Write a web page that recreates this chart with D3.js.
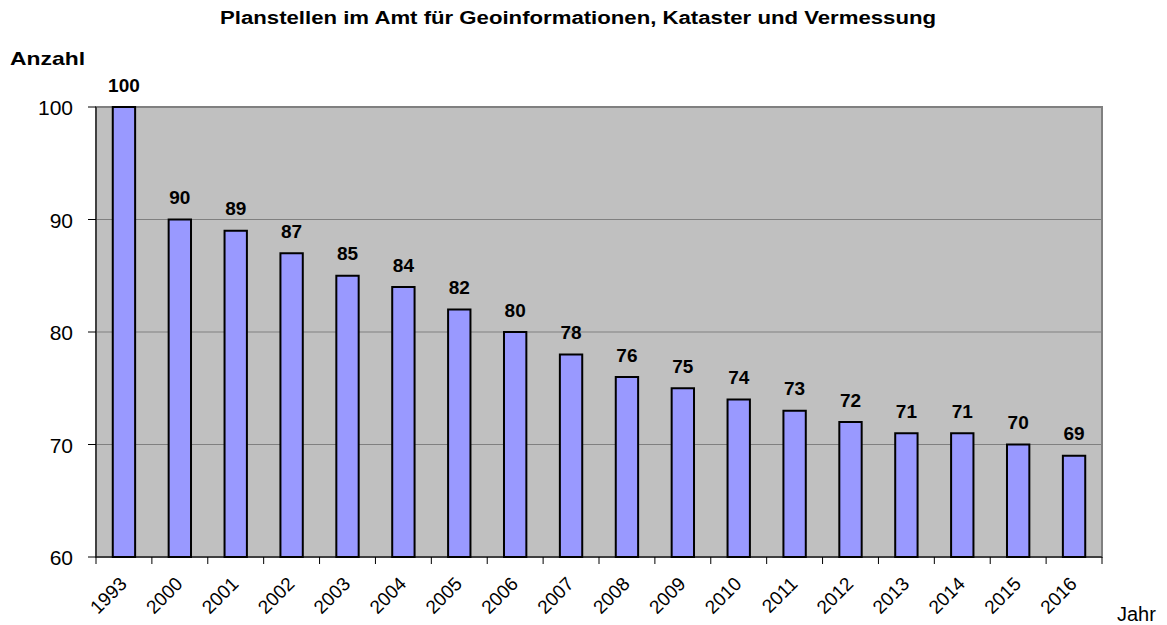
<!DOCTYPE html>
<html>
<head>
<meta charset="utf-8">
<script src="https://cdn.jsdelivr.net/npm/d3@7"></script>
<style>
  body { margin: 0; background: #fff; }
  text { font-family: "Liberation Sans", Arial, sans-serif; }
</style>
</head>
<body>
<svg id="chart" width="1167" height="625"></svg>
<script>
var years = ['1993', '2000', '2001', '2002', '2003', '2004', '2005', '2006', '2007',
  '2008', '2009', '2010', '2011', '2012', '2013', '2014', '2015', '2016'];
var stellen = [100, 90, 89, 87, 85, 84, 82, 80, 78, 76, 75, 74, 73, 72, 71, 71, 70, 69];
var yTicks = [60, 70, 80, 90, 100];

var svg = d3.select('#chart');
var m = { left: 96, right: 1102, top: 107, bottom: 557 };

var x = d3.scaleBand()
  .domain(years)
  .range([m.left, m.right])
  .paddingInner(0.6)
  .paddingOuter(0.3);
var xb = d3.scaleBand().domain(years).range([m.left, m.right]);

var y = d3.scaleLinear().domain([60, 100]).range([m.bottom, m.top]);

// plot area
svg.append('rect')
  .attr('x', m.left).attr('y', m.top)
  .attr('width', m.right - m.left).attr('height', m.bottom - m.top)
  .attr('fill', '#c0c0c0')
  .attr('stroke', '#808080').attr('stroke-width', 2);

// gridlines
svg.append('g')
  .selectAll('line')
  .data(yTicks.slice(1, -1))
  .join('line')
  .attr('x1', m.left).attr('x2', m.right)
  .attr('y1', function(d) { return y(d); })
  .attr('y2', function(d) { return y(d); })
  .attr('stroke', '#808080').attr('stroke-width', 1);

// bars
svg.append('g')
  .selectAll('rect')
  .data(stellen)
  .join('rect')
  .attr('x', function(d, i) { return x(years[i]); })
  .attr('y', function(d) { return y(d); })
  .attr('width', x.bandwidth())
  .attr('height', function(d) { return y(60) - y(d); })
  .attr('fill', '#9999ff')
  .attr('stroke', '#000').attr('stroke-width', 2);

// value labels
svg.append('g')
  .selectAll('text')
  .data(stellen)
  .join('text')
  .attr('x', function(d, i) { return x(years[i]) + x.bandwidth() / 2; })
  .attr('y', function(d) { return y(d) - 15.5; })
  .attr('text-anchor', 'middle')
  .attr('font-weight', 'bold')
  .attr('font-size', 19)
  .text(function(d) { return d; });

// axes lines
svg.append('line')
  .attr('x1', m.left).attr('x2', m.left).attr('y1', m.top).attr('y2', m.bottom)
  .attr('stroke', '#000');
svg.append('line')
  .attr('x1', m.left).attr('x2', m.right).attr('y1', m.bottom).attr('y2', m.bottom)
  .attr('stroke', '#000');

// y axis
var yAxis = svg.append('g');
yAxis.selectAll('line')
  .data(yTicks)
  .join('line')
  .attr('x1', m.left - 8).attr('x2', m.left)
  .attr('y1', function(d) { return y(d); })
  .attr('y2', function(d) { return y(d); })
  .attr('stroke', '#000');
yAxis.selectAll('text')
  .data(yTicks)
  .join('text')
  .attr('x', 73)
  .attr('y', function(d) { return y(d) + 8; })
  .attr('text-anchor', 'end')
  .attr('font-size', 21)
  .text(function(d) { return d; });

// x axis ticks at category boundaries
var bounds = years.map(function(d) { return xb(d); }).concat([m.right]);
svg.append('g')
  .selectAll('line')
  .data(bounds)
  .join('line')
  .attr('x1', function(d) { return d; }).attr('x2', function(d) { return d; })
  .attr('y1', m.bottom).attr('y2', m.bottom + 7)
  .attr('stroke', '#000');

svg.append('g')
  .selectAll('text')
  .data(years)
  .join('text')
  .attr('text-anchor', 'end')
  .attr('font-size', 19)
  .attr('transform', function(d) {
    return 'translate(' + (xb(d) + xb.bandwidth() / 2 + 4) + ',' + 585 + ') rotate(-45)';
  })
  .text(function(d) { return d; });

// titles
svg.append('text')
  .attr('x', 220).attr('y', 24)
  .attr('font-weight', 'bold')
  .attr('font-size', 18)
  .attr('textLength', 716)
  .attr('lengthAdjust', 'spacingAndGlyphs')
  .text('Planstellen im Amt für Geoinformationen, Kataster und Vermessung');

svg.append('text')
  .attr('x', 10).attr('y', 65)
  .attr('font-weight', 'bold')
  .attr('font-size', 19)
  .attr('textLength', 75)
  .attr('lengthAdjust', 'spacingAndGlyphs')
  .text('Anzahl');

svg.append('text')
  .attr('x', 1117).attr('y', 621)
  .attr('font-size', 20)
  .text('Jahr');
</script>
</body>
</html>
